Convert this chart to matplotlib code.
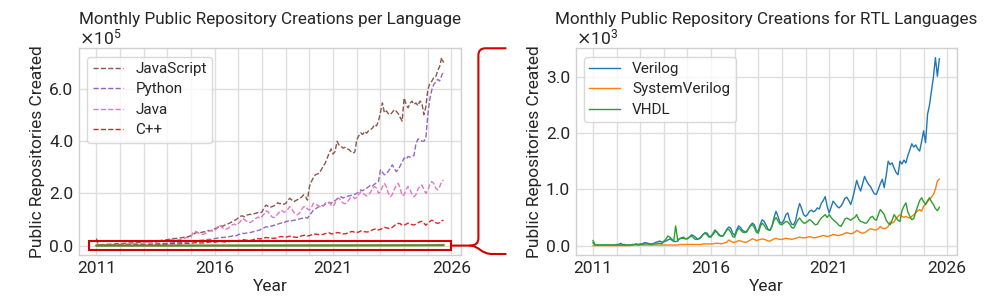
import numpy as np
import matplotlib
matplotlib.use("Agg")
import matplotlib.pyplot as plt
from matplotlib.ticker import ScalarFormatter, MultipleLocator
from matplotlib.path import Path
from matplotlib.patches import PathPatch, Rectangle
from matplotlib.transforms import IdentityTransform

# ---------------- data (monthly, Jan 2011 .. Sep 2025) ----------------
start_year = 2011
year_ticks = [2011, 2016, 2021, 2026]

# left panel, units of 1e5 repositories
javascript_e5 = [
    0.27, 0.03, 0.03, 0.04, 0.04, 0.05, 0.05, 0.05, 0.06, 0.06, 0.07, 0.07,
    0.08, 0.08, 0.09, 0.09, 0.10, 0.10, 0.10, 0.11, 0.11, 0.12, 0.12, 0.12,
    0.14, 0.14, 0.15, 0.16, 0.16, 0.17, 0.17, 0.18, 0.19, 0.20, 0.20, 0.21,
    0.23, 0.24, 0.26, 0.27, 0.27, 0.28, 0.29, 0.30, 0.31, 0.33, 0.34, 0.35,
    0.38, 0.42, 0.48, 0.50, 0.48, 0.50, 0.52, 0.53, 0.56, 0.58, 0.57, 0.60,
    0.65, 0.67, 0.72, 0.76, 0.74, 0.78, 0.82, 0.84, 0.88, 0.92, 0.96, 1.00,
    1.07, 1.12, 1.14, 1.10, 1.16, 1.18, 1.20, 1.18, 1.22, 1.24, 1.27, 1.25,
    1.29, 1.45, 1.55, 1.50, 1.46, 1.49, 1.52, 1.56, 1.64, 1.60, 1.62, 1.58,
    1.62, 1.72, 1.81, 1.75, 1.68, 1.72, 1.76, 1.81, 1.85, 1.94, 1.88, 1.74,
    2.26, 2.45, 2.60, 2.71, 2.74, 2.77, 2.90, 3.05, 3.15, 3.35, 3.54, 3.70,
    3.50, 3.60, 3.99, 3.85, 3.80, 3.73, 3.76, 3.70, 3.68, 3.60, 3.54, 3.58,
    4.05, 4.20, 4.31, 4.25, 4.37, 4.30, 4.40, 4.44, 4.50, 4.63, 4.58, 4.76,
    5.10, 5.46, 5.08, 5.15, 5.05, 5.01, 5.10, 5.20, 5.14, 5.05, 4.90, 4.76,
    5.65, 5.40, 5.27, 5.45, 5.53, 5.40, 5.46, 5.35, 5.53, 5.45, 5.01, 5.30,
    5.97, 6.20, 6.29, 6.42, 6.45, 6.70, 6.85, 7.19, 7.00,
]
python_e5 = [
    0.01, 0.01, 0.01, 0.01, 0.01, 0.01, 0.01, 0.02, 0.02, 0.02, 0.02, 0.02,
    0.02, 0.02, 0.03, 0.03, 0.03, 0.03, 0.03, 0.03, 0.04, 0.04, 0.04, 0.04,
    0.05, 0.05, 0.05, 0.06, 0.06, 0.06, 0.06, 0.07, 0.07, 0.08, 0.08, 0.08,
    0.09, 0.10, 0.10, 0.11, 0.11, 0.11, 0.12, 0.12, 0.13, 0.14, 0.14, 0.15,
    0.16, 0.17, 0.19, 0.19, 0.20, 0.20, 0.21, 0.21, 0.23, 0.24, 0.24, 0.25,
    0.27, 0.28, 0.30, 0.31, 0.31, 0.32, 0.33, 0.34, 0.35, 0.37, 0.38, 0.38,
    0.42, 0.44, 0.47, 0.46, 0.48, 0.49, 0.50, 0.52, 0.54, 0.56, 0.58, 0.60,
    0.66, 0.68, 0.72, 0.71, 0.74, 0.75, 0.77, 0.80, 0.82, 0.85, 0.87, 0.86,
    0.92, 0.93, 0.97, 0.95, 0.97, 0.98, 1.00, 1.02, 1.04, 1.06, 1.08, 1.05,
    1.15, 1.25, 1.36, 1.40, 1.45, 1.50, 1.55, 1.52, 1.58, 1.62, 1.65, 1.62,
    1.68, 1.72, 1.78, 1.85, 1.87, 1.82, 1.86, 1.88, 1.90, 1.92, 1.95, 1.96,
    2.00, 2.05, 2.13, 2.10, 2.15, 2.20, 2.25, 2.32, 2.28, 2.35, 2.40, 2.45,
    2.90, 2.80, 2.71, 2.75, 2.85, 2.95, 3.09, 2.95, 2.83, 2.90, 3.05, 3.20,
    3.35, 3.30, 3.41, 3.38, 3.41, 3.45, 3.90, 4.08, 4.05, 4.00, 3.99, 4.10,
    5.00, 5.59, 5.95, 6.17, 6.25, 6.36, 6.30, 6.50, 6.68,
]
java_e5 = [
    0.02, 0.02, 0.03, 0.03, 0.03, 0.03, 0.03, 0.03, 0.04, 0.04, 0.04, 0.04,
    0.05, 0.05, 0.06, 0.06, 0.06, 0.06, 0.06, 0.07, 0.08, 0.09, 0.09, 0.09,
    0.10, 0.11, 0.13, 0.13, 0.13, 0.12, 0.12, 0.13, 0.15, 0.17, 0.18, 0.17,
    0.19, 0.20, 0.23, 0.24, 0.23, 0.22, 0.22, 0.23, 0.26, 0.29, 0.31, 0.30,
    0.33, 0.50, 0.55, 0.52, 0.48, 0.44, 0.43, 0.45, 0.50, 0.55, 0.58, 0.55,
    0.58, 0.65, 0.78, 0.75, 0.68, 0.62, 0.63, 0.67, 0.74, 0.80, 0.82, 0.78,
    0.85, 0.92, 1.03, 1.00, 0.94, 0.90, 0.88, 0.93, 1.00, 1.05, 1.09, 1.04,
    1.12, 1.20, 1.33, 1.30, 1.20, 1.10, 1.07, 1.12, 1.22, 1.30, 1.35, 1.28,
    1.30, 1.38, 1.49, 1.42, 1.28, 1.20, 1.18, 1.25, 1.38, 1.48, 1.50, 1.40,
    1.36, 1.45, 1.62, 1.60, 1.55, 1.50, 1.48, 1.52, 1.62, 1.68, 1.65, 1.55,
    1.50, 1.62, 1.80, 1.81, 1.72, 1.63, 1.60, 1.65, 1.75, 1.85, 1.87, 1.80,
    1.85, 1.95, 2.06, 2.00, 1.95, 1.90, 1.94, 2.05, 2.18, 2.26, 2.20, 2.00,
    2.05, 2.25, 2.38, 2.25, 2.00, 1.87, 1.95, 2.15, 2.30, 2.38, 2.20, 1.90,
    1.95, 2.15, 2.26, 2.15, 1.95, 1.87, 1.95, 2.15, 2.28, 2.32, 2.15, 2.00,
    2.10, 2.35, 2.45, 2.38, 2.20, 2.13, 2.25, 2.45, 2.51,
]
cpp_e5 = [
    0.01, 0.01, 0.01, 0.01, 0.01, 0.01, 0.01, 0.01, 0.01, 0.01, 0.02, 0.02,
    0.02, 0.02, 0.02, 0.02, 0.02, 0.02, 0.02, 0.02, 0.03, 0.03, 0.03, 0.03,
    0.03, 0.03, 0.04, 0.04, 0.04, 0.04, 0.04, 0.04, 0.05, 0.05, 0.06, 0.05,
    0.06, 0.06, 0.07, 0.07, 0.07, 0.06, 0.06, 0.07, 0.08, 0.09, 0.09, 0.08,
    0.09, 0.10, 0.11, 0.11, 0.10, 0.10, 0.10, 0.11, 0.12, 0.13, 0.14, 0.12,
    0.13, 0.14, 0.16, 0.16, 0.15, 0.14, 0.14, 0.15, 0.17, 0.19, 0.20, 0.18,
    0.19, 0.21, 0.23, 0.22, 0.21, 0.20, 0.20, 0.21, 0.24, 0.26, 0.27, 0.25,
    0.27, 0.29, 0.31, 0.30, 0.29, 0.28, 0.28, 0.29, 0.32, 0.34, 0.35, 0.32,
    0.32, 0.34, 0.36, 0.35, 0.33, 0.32, 0.32, 0.34, 0.37, 0.39, 0.40, 0.37,
    0.38, 0.41, 0.44, 0.44, 0.43, 0.42, 0.42, 0.43, 0.46, 0.48, 0.49, 0.45,
    0.45, 0.47, 0.50, 0.49, 0.47, 0.45, 0.45, 0.47, 0.50, 0.53, 0.54, 0.50,
    0.50, 0.52, 0.56, 0.55, 0.53, 0.52, 0.53, 0.56, 0.60, 0.63, 0.64, 0.60,
    0.62, 0.66, 0.70, 0.68, 0.66, 0.66, 0.70, 0.76, 0.82, 0.85, 0.84, 0.78,
    0.78, 0.82, 0.86, 0.84, 0.80, 0.79, 0.82, 0.87, 0.91, 0.93, 0.86, 0.78,
    0.85, 0.92, 0.97, 0.94, 0.88, 0.85, 0.88, 0.95, 0.97,
]

# right panel, units of 1e3 repositories
verilog_e3 = [
    0.05, 0.01, 0.01, 0.01, 0.01, 0.01, 0.01, 0.01, 0.01, 0.01, 0.01, 0.01,
    0.02, 0.02, 0.04, 0.02, 0.02, 0.01, 0.01, 0.01, 0.02, 0.02, 0.03, 0.02,
    0.03, 0.03, 0.05, 0.05, 0.04, 0.03, 0.03, 0.04, 0.06, 0.07, 0.08, 0.06,
    0.07, 0.08, 0.10, 0.12, 0.10, 0.08, 0.07, 0.08, 0.12, 0.14, 0.15, 0.12,
    0.12, 0.15, 0.19, 0.18, 0.15, 0.12, 0.12, 0.15, 0.20, 0.23, 0.22, 0.16,
    0.17, 0.20, 0.25, 0.24, 0.20, 0.17, 0.17, 0.22, 0.29, 0.33, 0.31, 0.22,
    0.18, 0.28, 0.35, 0.32, 0.27, 0.25, 0.24, 0.30, 0.36, 0.40, 0.37, 0.27,
    0.25, 0.38, 0.46, 0.43, 0.36, 0.29, 0.27, 0.35, 0.50, 0.61, 0.52, 0.41,
    0.40, 0.45, 0.55, 0.58, 0.45, 0.38, 0.37, 0.45, 0.62, 0.75, 0.66, 0.55,
    0.52, 0.55, 0.61, 0.63, 0.60, 0.62, 0.67, 0.65, 0.75, 0.80, 0.87, 0.70,
    0.58, 0.68, 0.79, 0.75, 0.70, 0.67, 0.70, 0.76, 0.84, 0.86, 0.80, 0.73,
    0.85, 1.00, 1.16, 1.05, 0.97, 1.10, 1.23, 1.15, 1.09, 1.05, 0.98, 0.92,
    0.91, 1.00, 1.10, 1.18, 1.03, 1.25, 1.50, 1.44, 1.47, 1.38, 1.30, 1.26,
    1.50, 1.45, 1.52, 1.47, 1.60, 1.70, 1.81, 1.75, 1.79, 1.72, 1.68, 1.85,
    2.04, 1.83, 2.33, 2.50, 2.75, 3.00, 3.34, 3.01, 3.32,
]
systemverilog_e3 = [
    0.00, 0.00, 0.00, 0.00, 0.00, 0.00, 0.00, 0.00, 0.00, 0.00, 0.00, 0.00,
    0.00, 0.00, 0.00, 0.00, 0.00, 0.00, 0.00, 0.00, 0.01, 0.01, 0.01, 0.01,
    0.01, 0.01, 0.01, 0.01, 0.01, 0.01, 0.01, 0.01, 0.01, 0.01, 0.01, 0.01,
    0.01, 0.01, 0.01, 0.01, 0.01, 0.01, 0.01, 0.01, 0.02, 0.02, 0.02, 0.02,
    0.02, 0.02, 0.02, 0.02, 0.02, 0.02, 0.02, 0.02, 0.03, 0.03, 0.03, 0.03,
    0.03, 0.03, 0.04, 0.04, 0.04, 0.03, 0.04, 0.05, 0.06, 0.10, 0.08, 0.06,
    0.06, 0.07, 0.09, 0.08, 0.07, 0.06, 0.06, 0.08, 0.10, 0.12, 0.11, 0.09,
    0.10, 0.11, 0.12, 0.11, 0.10, 0.08, 0.08, 0.10, 0.12, 0.13, 0.12, 0.11,
    0.11, 0.12, 0.13, 0.12, 0.12, 0.11, 0.12, 0.13, 0.14, 0.15, 0.14, 0.14,
    0.14, 0.15, 0.16, 0.15, 0.14, 0.14, 0.15, 0.16, 0.17, 0.18, 0.17, 0.16,
    0.17, 0.18, 0.20, 0.19, 0.18, 0.18, 0.19, 0.20, 0.22, 0.23, 0.22, 0.21,
    0.22, 0.24, 0.27, 0.25, 0.23, 0.22, 0.23, 0.25, 0.28, 0.30, 0.29, 0.28,
    0.28, 0.30, 0.34, 0.31, 0.30, 0.31, 0.34, 0.42, 0.40, 0.42, 0.48, 0.52,
    0.55, 0.52, 0.50, 0.52, 0.50, 0.49, 0.52, 0.55, 0.58, 0.62, 0.64, 0.61,
    0.70, 0.73, 0.78, 0.82, 0.86, 0.91, 1.00, 1.15, 1.18,
]
vhdl_e3 = [
    0.09, 0.01, 0.01, 0.01, 0.01, 0.01, 0.01, 0.01, 0.01, 0.01, 0.01, 0.01,
    0.01, 0.01, 0.01, 0.01, 0.01, 0.01, 0.01, 0.01, 0.01, 0.02, 0.02, 0.01,
    0.02, 0.02, 0.03, 0.03, 0.03, 0.02, 0.02, 0.03, 0.03, 0.04, 0.04, 0.03,
    0.08, 0.11, 0.17, 0.15, 0.12, 0.07, 0.35, 0.10, 0.12, 0.13, 0.13, 0.12,
    0.13, 0.15, 0.17, 0.14, 0.11, 0.11, 0.13, 0.16, 0.20, 0.22, 0.19, 0.15,
    0.15, 0.22, 0.28, 0.24, 0.18, 0.17, 0.17, 0.22, 0.28, 0.29, 0.24, 0.16,
    0.15, 0.25, 0.31, 0.28, 0.24, 0.23, 0.25, 0.30, 0.35, 0.37, 0.32, 0.24,
    0.22, 0.34, 0.40, 0.36, 0.30, 0.28, 0.28, 0.35, 0.45, 0.50, 0.44, 0.38,
    0.37, 0.40, 0.43, 0.42, 0.38, 0.32, 0.31, 0.38, 0.45, 0.49, 0.44, 0.40,
    0.40, 0.43, 0.46, 0.44, 0.40, 0.37, 0.38, 0.44, 0.49, 0.52, 0.55, 0.50,
    0.55, 0.50, 0.46, 0.43, 0.40, 0.36, 0.34, 0.40, 0.47, 0.49, 0.47, 0.45,
    0.48, 0.50, 0.55, 0.47, 0.43, 0.42, 0.40, 0.40, 0.45, 0.50, 0.52, 0.47,
    0.45, 0.55, 0.64, 0.60, 0.55, 0.45, 0.40, 0.37, 0.45, 0.55, 0.50, 0.45,
    0.43, 0.62, 0.70, 0.76, 0.60, 0.52, 0.46, 0.48, 0.60, 0.70, 0.80, 0.85,
    0.78, 0.73, 0.80, 0.85, 0.78, 0.73, 0.66, 0.62, 0.68,
]

left_series = ["JavaScript", "Python", "Java", "C++"]
left_colors = ["#8c564b", "#9467bd", "#e377c2", "#d62728"]
rtl_series = ["Verilog", "SystemVerilog", "VHDL"]
rtl_colors = ["#1f77b4", "#ff7f0e", "#2ca02c"]

left_values = [javascript_e5, python_e5, java_e5, cpp_e5]
rtl_values = [verilog_e3, systemverilog_e3, vhdl_e3]

n = len(javascript_e5)
x = start_year + np.arange(n) / 12.0

# ---------------- style ----------------
plt.rcParams["font.family"] = ["Roboto", "DejaVu Sans"]
plt.rcParams["axes.edgecolor"] = "#d0d0d0"
plt.rcParams["axes.linewidth"] = 1.0
plt.rcParams["grid.color"] = "#dedede"
plt.rcParams["grid.linewidth"] = 1.0
plt.rcParams["text.color"] = "#262626"
plt.rcParams["axes.labelcolor"] = "#262626"
plt.rcParams["xtick.color"] = "#262626"
plt.rcParams["ytick.color"] = "#262626"


class OneDecimal(ScalarFormatter):
    def _set_format(self):
        self.format = "%1.1f"


fig = plt.figure(figsize=(9.96, 3.07), dpi=100)
axL = fig.add_axes([0.0793, 0.1694, 0.3835, 0.6733])
axR = fig.add_axes([0.5780, 0.1694, 0.3825, 0.6733])

FS = 12.5


def style(ax, title, major_step):
    ax.set_xticks(year_ticks)
    ax.xaxis.set_minor_locator(MultipleLocator(1))
    ax.yaxis.set_major_locator(MultipleLocator(major_step))
    ax.grid(True, which="both", axis="x")
    ax.grid(True, which="major", axis="y")
    ax.set_axisbelow(True)
    ax.tick_params(which="both", length=0, labelsize=FS)
    ax.tick_params(axis="x", pad=4.5)
    ax.tick_params(axis="y", pad=4.0)
    fmt = OneDecimal(useMathText=True)
    fmt.set_powerlimits((0, 0))
    ax.yaxis.set_major_formatter(fmt)
    ax.yaxis.get_offset_text().set_fontsize(FS)
    ax.set_xlabel("Year", fontsize=FS, labelpad=2)
    ax.set_ylabel("Public Repositories Created", fontsize=FS, labelpad=3)
    ax.set_title(title, fontsize=12.3, y=1.118, pad=0)


def add_legend(ax):
    leg = ax.legend(loc="upper left", fontsize=11, frameon=True,
                    edgecolor="#d0d0d0", handlelength=2.0, borderpad=0.35,
                    labelspacing=0.42, borderaxespad=0.55, handletextpad=0.8)
    leg.get_frame().set_linewidth(1.0)


# left panel
for name, vals, col in zip(left_series, left_values, left_colors):
    axL.plot(x, np.array(vals) * 1e5, ls="--", lw=1.0, color=col, label=name)
for name, vals, col in zip(rtl_series, rtl_values, rtl_colors):
    axL.plot(x, np.array(vals) * 1e3, lw=1.2, color=col)
style(axL, "Monthly Public Repository Creations per Language", 2e5)
add_legend(axL)

# right panel
for name, vals, col in zip(rtl_series, rtl_values, rtl_colors):
    axR.plot(x, np.array(vals) * 1e3, lw=1.0, color=col, label=name)
style(axR, "Monthly Public Repository Creations for RTL Languages", 1e3)
add_legend(axR)

# highlight rectangle around the near-zero region of the left panel
pad_x = 0.33
half_h = 0.18e5
rect = Rectangle((x[0] - pad_x, -half_h), (x[-1] - x[0]) + 2 * pad_x, 2 * half_h,
                 fill=False, edgecolor="#d40000", lw=1.5, clip_on=False, zorder=5)
axL.add_patch(rect)

# curly connector towards the right panel (display coordinates)
fig.canvas.draw()
x_r, y_c = axL.transData.transform((x[-1] + pad_x, 0.0))
bbR = axR.get_window_extent()
y_top = bbR.y1
y_bot = bbR.y0 + 1
x_j = x_r + 18
x_v = x_r + 27
x_e = x_v + 28
rad = 7
verts1 = [(x_r, y_c), (x_j, y_c), (x_v, y_c), (x_v, y_c + rad),
          (x_v, y_top - rad), (x_v, y_top), (x_v + rad, y_top), (x_e, y_top)]
codes1 = [Path.MOVETO, Path.LINETO, Path.CURVE3, Path.CURVE3,
          Path.LINETO, Path.CURVE3, Path.CURVE3, Path.LINETO]
verts2 = [(x_j, y_c), (x_j + 10, y_c), (x_v + 2, y_bot), (x_v + 14, y_bot), (x_e, y_bot)]
codes2 = [Path.MOVETO, Path.CURVE4, Path.CURVE4, Path.CURVE4, Path.LINETO]
for v, c in ((verts1, codes1), (verts2, codes2)):
    fig.patches.append(PathPatch(Path(v, c), transform=IdentityTransform(),
                                 fill=False, edgecolor="#d40000", lw=1.5,
                                 figure=fig))

fig.savefig("out.png", dpi=100)
